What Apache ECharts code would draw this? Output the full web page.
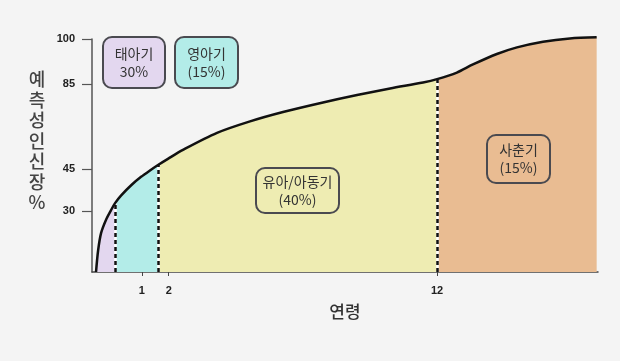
<!DOCTYPE html>
<html><head><meta charset="utf-8">
<script src="https://cdn.jsdelivr.net/npm/echarts@6/dist/echarts.min.js"></script>
<style>html,body{margin:0;padding:0;background:#f4f4f4}#c{width:620px;height:361px}</style>
</head><body><div id="c"></div>
<script>
// Curve: age (years, 0 = birth) vs predicted adult height %
const ages = [-0.71,-0.63,-0.52,-0.34,-0.15,0,0.22,0.60,0.97,1.34,1.6,1.97,2.53,3.80,5.03,6.26,7.75,9.02,10.25,11.48,12,12.74,13.34,14.23,14.98,15.95,16.95,17.95];
const heightPct = [0,10.8,19.2,25.6,30.3,32.8,35.5,39.2,42.2,44.75,46.9,49.8,54.0,62.0,67.4,71.8,76.3,79.8,82.9,85.5,86.6,88.8,91.5,95.0,97.2,99.1,100.2,100.6];
// stage boundaries (ages)
const stageBounds = [0, 1.6, 12];
const stageNames = ['태아기','영아기','유아/아동기','사춘기'];
const stageShares = ['30%','(15%)','(40%)','(15%)'];
// axis ticks
const xTickLabels = [1, 2, 12];
const yTickLabels = [30, 45, 85, 100];
// the drawn y scale is non-linear: real value -> drawn value anchors
const yScaleReal = [0, 30, 45, 85, 100];
const yScaleDrawn = [0, 26.2, 44.2, 80.7, 100];

function warp(v){
  const R = yScaleReal, D = yScaleDrawn;
  let i = 0;
  while (i < R.length - 2 && v > R[i+1]) i++;
  return D[i] + (v - R[i]) * (D[i+1] - D[i]) / (R[i+1] - R[i]);
}
function unwarp(d){
  const R = yScaleReal, D = yScaleDrawn;
  let i = 0;
  while (i < D.length - 2 && d > D[i+1]) i++;
  return R[i] + (d - D[i]) * (R[i+1] - R[i]) / (D[i+1] - D[i]);
}
function heightAt(a){ return heightPct[ages.indexOf(a)]; }

const pts = ages.map((a, i) => [a, warp(heightPct[i])]);
const cut = [0].concat(stageBounds.map(b => ages.indexOf(b)), [ages.length - 1]);
const fills = ['#e3d7ef', '#b3ece8', '#eeecb2', '#e9bc92'];

const regionSeries = fills.map((c, k) => ({
  type: 'line', data: pts.slice(cut[k], cut[k+1] + 1), smooth: 0.3, symbol: 'none',
  lineStyle: { width: 0 }, areaStyle: { color: c, opacity: 1 }, z: 1, silent: true, clip: false
}));

const boundLines = stageBounds.map(b => [{ coord: [b, 0] }, { coord: [b, warp(heightAt(b))] }]);

const chart = echarts.init(document.getElementById('c'));
const tickFont = { fontFamily: 'Liberation Sans', fontWeight: 'bold', fontSize: 11, color: '#222' };

chart.setOption({
  backgroundColor: '#f4f4f4',
  animation: false,
  grid: { left: 92, right: 22, top: 39, bottom: 89, outerBoundsMode: 'none' },
  xAxis: {
    type: 'value', min: -0.86, max: 18,
    name: '연령', nameLocation: 'middle', nameGap: 31,
    nameTextStyle: { fontFamily: 'Noto Sans CJK KR', fontSize: 17, fontWeight: 500, color: '#333' },
    axisLine: { show: true, onZero: false, lineStyle: { color: '#444', width: 1.5 } },
    axisTick: { show: true, customValues: xTickLabels, length: 4, lineStyle: { color: '#444' } },
    axisLabel: Object.assign({ customValues: xTickLabels, margin: 13 }, tickFont),
    splitLine: { show: false }
  },
  yAxis: {
    type: 'value', min: 0, max: 100,
    axisLine: { show: true, onZero: false, lineStyle: { color: '#555', width: 1.5 } },
    axisTick: { show: true, customValues: yTickLabels.map(warp), length: 10, lineStyle: { color: '#555', width: 1.2 } },
    axisLabel: Object.assign({ customValues: yTickLabels.map(warp), margin: 17,
      formatter: v => String(Math.round(unwarp(v))) }, tickFont),
    splitLine: { show: false }
  },
  series: regionSeries.concat([
    {
      type: 'line', data: [], z: 3, silent: true,
      markLine: { symbol: 'none', silent: true, label: { show: false },
        lineStyle: { type: 'solid', color: '#ffffff', width: 2.5 }, data: boundLines }
    },
    {
      type: 'line', data: [], z: 4, silent: true,
      markLine: { symbol: 'none', silent: true, label: { show: false },
        lineStyle: { type: [4, 3], color: '#111', width: 2.5 }, data: boundLines }
    },
    {
      type: 'line', data: pts, smooth: 0.3, symbol: 'none', clip: false, z: 5, silent: true,
      lineStyle: { color: '#111', width: 2.5 }
    }
  ]),
  graphic: [
    { type: 'text', x: 37, y: 141, z: 10,
      style: { text: '예\n측\n성\n인\n신\n장\n%', fontFamily: 'Noto Sans CJK KR', fontSize: 18, fontWeight: 500,
        lineHeight: 20.5, fill: '#444', textAlign: 'center', textVerticalAlign: 'middle' } }
  ].concat([
    [103, 37, 62, 51, fills[0]],
    [175, 37, 63, 51, fills[1]],
    [256, 168, 83, 45, 'transparent'],
    [487, 135, 63, 48, 'transparent']
  ].flatMap((b, k) => [
    { type: 'rect', z: 10, shape: { x: b[0], y: b[1], width: b[2], height: b[3], r: 9 },
      style: { fill: b[4], stroke: '#4a4a50', lineWidth: 2 } },
    { type: 'text', z: 11, x: b[0] + b[2] / 2, y: b[1] + b[3] / 2,
      style: { text: stageNames[k] + '\n' + stageShares[k], fontFamily: 'Noto Sans CJK KR', fontSize: 14,
        lineHeight: 18, fill: '#333', textAlign: 'center', textVerticalAlign: 'middle' } }
  ]))
});
</script></body></html>
